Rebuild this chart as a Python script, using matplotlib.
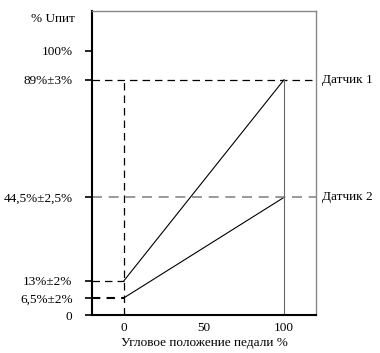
import matplotlib.pyplot as plt

# pedal position (%) and sensor outputs (% of supply)
pedal = [0, 100]
sensor1 = [13, 89]
sensor2 = [6.5, 44.5]
ytick_vals = [0, 6.5, 13, 44.5, 89, 100]
ytick_labels = ['0', '6,5%\u00b12%', '13%\u00b12%', '44,5%\u00b12,5%', '89%\u00b13%', '100%']
xtick_vals = [0, 50, 100]
sensor_names = ['Датчик 1', 'Датчик 2']

plt.rcParams['font.family'] = ['Liberation Serif', 'DejaVu Serif']
fs = 9.5

fig = plt.figure(figsize=(3.8, 3.53), dpi=100)
ax = fig.add_axes([92 / 380, 38 / 353, 224 / 380, 304 / 353])
ax.set_xlim(-20, 120)
ax.set_ylim(0, 115)

# sensor lines
ax.plot(pedal, sensor1, color='black', lw=0.8)
ax.plot(pedal, sensor2, color='black', lw=0.8)

# guide lines
dash = (0, (6, 4))
ax.plot([-20, 120], [sensor1[1]] * 2, color='black', lw=0.9, ls=dash)
ax.plot([-20, 120], [sensor2[1]] * 2, color='#888888', lw=1.2, ls=dash)
ax.plot([-20, 0], [sensor1[0]] * 2, color='black', lw=0.9, ls=dash)
ax.plot([-20, 0], [sensor2[0]] * 2, color='black', lw=1.5, ls=(0, (4, 3)))
ax.plot([0, 0], [0, sensor1[1]], color='black', lw=0.9, ls=dash)
ax.plot([100, 100], [0, sensor1[1]], color='#666666', lw=0.8)

ax.set_yticks(ytick_vals)
ax.set_yticklabels(ytick_labels, fontsize=fs)
ax.set_xticks(xtick_vals)
ax.set_xticklabels([str(v) for v in xtick_vals], fontsize=fs)
ax.tick_params(axis='y', length=5, width=1.2, direction='out', pad=9)
ax.tick_params(axis='x', length=0, pad=5)

for side in ['left', 'bottom']:
    ax.spines[side].set_linewidth(1.5)
    ax.spines[side].set_color('black')
for side in ['top', 'right']:
    ax.spines[side].set_linewidth(1.0)
    ax.spines[side].set_color('#888888')

ax.text(-0.075, 0.975, '% Uпит', transform=ax.transAxes, fontsize=fs, ha='right', va='center')
ax.text(1.025, sensor1[1], sensor_names[0], transform=ax.get_yaxis_transform(), fontsize=fs, va='center')
ax.text(1.025, sensor2[1], sensor_names[1], transform=ax.get_yaxis_transform(), fontsize=fs, va='center')
ax.set_xlabel('Угловое положение педали %', fontsize=fs, labelpad=2)

fig.savefig('out.png', dpi=100)
